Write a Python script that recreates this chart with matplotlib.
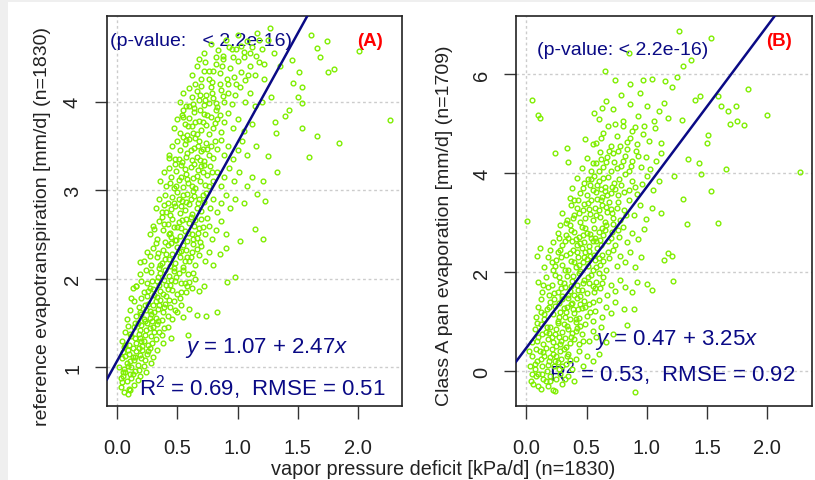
import numpy as np
import matplotlib
matplotlib.use("Agg")
import matplotlib.pyplot as plt
from matplotlib.patches import Rectangle

plt.rcParams['font.family'] = ['Liberation Sans', 'DejaVu Sans']
plt.rcParams['mathtext.fontset'] = 'custom'
plt.rcParams['mathtext.rm'] = 'Liberation Sans'
plt.rcParams['mathtext.it'] = 'Liberation Sans:italic'

# ---- panel A: vapor pressure deficit vs reference ET
pts_a = [
    # y 0.7 - 0.9
    (0.03, 0.78), (0.06, 0.72), (0.08, 0.85), (0.10, 0.76), (0.12, 0.88), (0.05, 0.90), (0.14, 0.80),
    (0.09, 0.70), (0.17, 0.86), (0.04, 0.83), (0.11, 0.74), (0.07, 0.95), (0.13, 0.93), (0.19, 0.90),
    # y 0.9 - 1.2
    (0.02, 1.00), (0.04, 1.10), (0.06, 0.98), (0.08, 1.05), (0.10, 1.15), (0.12, 1.00), (0.14, 1.08),
    (0.16, 1.18), (0.18, 0.97), (0.20, 1.10), (0.22, 1.02), (0.25, 1.15), (0.28, 1.05), (0.05, 1.17),
    (0.09, 1.20), (0.13, 1.12), (0.17, 1.03), (0.21, 1.19), (0.24, 0.95), (0.30, 1.12), (0.33, 1.20),
    (0.11, 0.93), (0.15, 0.96), (0.07, 1.13), (0.19, 1.14), (0.27, 1.22),
    # y 1.2 - 1.5
    (0.04, 1.30), (0.07, 1.40), (0.10, 1.25), (0.12, 1.35), (0.14, 1.45), (0.16, 1.28), (0.18, 1.38),
    (0.20, 1.48), (0.22, 1.30), (0.24, 1.42), (0.26, 1.25), (0.28, 1.35), (0.30, 1.46), (0.32, 1.32),
    (0.35, 1.40), (0.38, 1.28), (0.42, 1.45), (0.09, 1.47), (0.13, 1.22), (0.17, 1.50), (0.21, 1.24),
    (0.25, 1.50), (0.29, 1.27), (0.33, 1.49), (0.37, 1.36), (0.45, 1.33), (0.06, 1.23), (0.19, 1.33),
    (0.23, 1.37), (0.27, 1.44), (0.59, 1.36),
    # y 1.5 - 1.8
    (0.08, 1.55), (0.11, 1.65), (0.14, 1.75), (0.16, 1.58), (0.18, 1.68), (0.20, 1.78), (0.22, 1.55),
    (0.24, 1.65), (0.26, 1.72), (0.28, 1.60), (0.30, 1.70), (0.32, 1.56), (0.34, 1.66), (0.36, 1.76),
    (0.38, 1.62), (0.40, 1.72), (0.42, 1.58), (0.44, 1.68), (0.47, 1.75), (0.50, 1.62), (0.53, 1.70),
    (0.12, 1.78), (0.25, 1.80), (0.29, 1.52), (0.33, 1.79), (0.37, 1.53), (0.41, 1.80), (0.46, 1.55),
    (0.55, 1.57), (0.19, 1.62), (0.27, 1.64), (0.35, 1.70), (0.60, 1.66), (0.66, 1.59), (0.74, 1.58),
    (0.83, 1.63),
    # y 1.8 - 2.1
    (0.13, 1.90), (0.16, 1.92), (0.19, 2.05), (0.22, 1.85), (0.25, 1.95), (0.28, 2.08), (0.30, 1.88),
    (0.33, 1.98), (0.36, 2.06), (0.38, 1.83), (0.41, 1.93), (0.43, 2.03), (0.46, 1.87), (0.48, 1.97),
    (0.51, 2.07), (0.53, 1.85), (0.56, 1.95), (0.59, 2.05), (0.62, 1.90), (0.65, 2.00), (0.68, 1.86),
    (0.24, 2.10), (0.31, 1.82), (0.35, 1.93), (0.40, 2.10), (0.45, 1.99), (0.50, 1.83), (0.55, 2.10),
    (0.60, 1.96), (0.72, 1.92), (0.20, 1.97), (0.27, 1.90), (0.42, 1.88), (0.47, 2.09), (0.91, 1.96),
    (0.98, 2.02), (0.19, 2.19), (0.16, 1.92),
    # y 2.1 - 2.4
    (0.22, 2.20), (0.25, 2.30), (0.28, 2.15), (0.30, 2.35), (0.33, 2.25), (0.35, 2.12), (0.38, 2.32),
    (0.40, 2.22), (0.42, 2.38), (0.44, 2.14), (0.46, 2.28), (0.48, 2.18), (0.50, 2.36), (0.52, 2.24),
    (0.55, 2.13), (0.57, 2.33), (0.60, 2.20), (0.62, 2.30), (0.65, 2.16), (0.68, 2.27), (0.70, 2.37),
    (0.73, 2.20), (0.76, 2.30), (0.80, 2.15), (0.32, 2.40), (0.37, 2.18), (0.45, 2.40), (0.53, 2.31),
    (0.58, 2.25), (0.63, 2.39), (0.27, 2.26), (0.85, 2.28), (1.02, 2.43), (0.90, 2.35),
    # y 2.4 - 2.7
    (0.27, 2.50), (0.30, 2.60), (0.33, 2.45), (0.35, 2.65), (0.38, 2.55), (0.40, 2.42), (0.42, 2.62),
    (0.44, 2.52), (0.46, 2.68), (0.48, 2.44), (0.50, 2.58), (0.52, 2.48), (0.54, 2.66), (0.56, 2.54),
    (0.58, 2.43), (0.60, 2.63), (0.62, 2.50), (0.64, 2.60), (0.66, 2.46), (0.68, 2.57), (0.70, 2.67),
    (0.73, 2.50), (0.76, 2.60), (0.79, 2.45), (0.82, 2.55), (0.86, 2.65), (0.90, 2.50), (0.37, 2.70),
    (0.45, 2.47), (0.53, 2.57), (0.61, 2.70), (0.69, 2.42), (0.75, 2.69), (0.31, 2.56), (1.21, 2.45),
    (1.14, 2.56),
    # y 2.7 - 3.0
    (0.32, 2.80), (0.35, 2.90), (0.37, 2.75), (0.40, 2.95), (0.42, 2.85), (0.44, 2.72), (0.46, 2.92),
    (0.48, 2.82), (0.50, 2.98), (0.52, 2.74), (0.54, 2.88), (0.56, 2.78), (0.58, 2.96), (0.60, 2.84),
    (0.62, 2.73), (0.64, 2.93), (0.66, 2.80), (0.68, 2.90), (0.70, 2.76), (0.72, 2.87), (0.74, 2.97),
    (0.77, 2.80), (0.80, 2.90), (0.83, 2.75), (0.86, 2.85), (0.90, 2.95), (0.94, 2.80), (0.98, 2.90),
    (0.45, 2.79), (0.51, 2.90), (0.57, 2.87), (0.63, 2.99), (0.39, 2.83), (1.05, 2.85), (1.23, 2.88),
    (1.16, 2.96),
    # y 3.0 - 3.3
    (0.36, 3.10), (0.39, 3.20), (0.41, 3.05), (0.43, 3.25), (0.45, 3.15), (0.47, 3.02), (0.49, 3.22),
    (0.51, 3.12), (0.53, 3.28), (0.55, 3.04), (0.57, 3.18), (0.59, 3.08), (0.61, 3.26), (0.63, 3.14),
    (0.65, 3.03), (0.67, 3.23), (0.69, 3.10), (0.71, 3.20), (0.73, 3.06), (0.75, 3.17), (0.77, 3.27),
    (0.80, 3.10), (0.83, 3.20), (0.86, 3.05), (0.89, 3.15), (0.93, 3.25), (0.97, 3.10), (1.01, 3.20),
    (0.48, 3.30), (0.56, 3.24), (0.64, 3.30), (0.72, 3.28), (0.44, 3.08), (1.08, 3.05), (1.21, 3.10),
    (1.33, 3.21), (1.12, 3.15),
    # y 3.3 - 3.6
    (0.43, 3.40), (0.46, 3.50), (0.48, 3.35), (0.50, 3.55), (0.52, 3.45), (0.54, 3.32), (0.56, 3.52),
    (0.58, 3.42), (0.60, 3.58), (0.62, 3.34), (0.64, 3.48), (0.66, 3.38), (0.68, 3.56), (0.70, 3.44),
    (0.72, 3.33), (0.74, 3.53), (0.76, 3.40), (0.78, 3.50), (0.80, 3.36), (0.83, 3.47), (0.86, 3.57),
    (0.89, 3.40), (0.92, 3.50), (0.96, 3.35), (1.00, 3.45), (1.04, 3.55), (1.08, 3.40), (0.55, 3.60),
    (0.65, 3.59), (0.71, 3.47), (0.43, 3.36), (1.25, 3.39), (1.15, 3.50),
    # y 3.6 - 3.9
    (0.47, 3.70), (0.50, 3.80), (0.52, 3.65), (0.54, 3.85), (0.56, 3.75), (0.58, 3.62), (0.60, 3.82),
    (0.62, 3.72), (0.64, 3.88), (0.66, 3.64), (0.68, 3.78), (0.70, 3.68), (0.72, 3.86), (0.74, 3.74),
    (0.76, 3.63), (0.78, 3.83), (0.80, 3.70), (0.83, 3.80), (0.86, 3.66), (0.89, 3.77), (0.92, 3.87),
    (0.96, 3.70), (1.00, 3.80), (1.05, 3.67), (0.55, 3.90), (0.69, 3.90), (0.82, 3.90), (1.31, 3.77),
    (1.32, 3.65), (1.39, 3.84), (1.12, 3.75), (0.55, 3.83),
    # y 3.9 - 4.2
    (0.52, 4.00), (0.55, 4.10), (0.57, 3.95), (0.60, 4.15), (0.62, 4.05), (0.64, 3.93), (0.66, 4.12),
    (0.68, 4.02), (0.70, 4.18), (0.72, 3.96), (0.74, 4.08), (0.76, 3.98), (0.78, 4.16), (0.80, 4.04),
    (0.83, 3.94), (0.86, 4.13), (0.89, 4.00), (0.92, 4.10), (0.95, 3.97), (0.98, 4.07), (1.02, 4.17),
    (1.06, 4.00), (1.10, 4.10), (0.65, 4.20), (0.85, 4.20), (1.14, 3.95), (1.43, 3.90), (1.50, 4.05),
    (1.53, 3.99), (1.53, 4.16), (1.46, 4.21), (1.28, 4.05), (1.20, 4.00),
    # y 4.2 - 4.5
    (0.62, 4.30), (0.66, 4.40), (0.70, 4.25), (0.73, 4.45), (0.76, 4.35), (0.79, 4.22), (0.82, 4.42),
    (0.85, 4.32), (0.88, 4.48), (0.91, 4.26), (0.94, 4.38), (0.97, 4.28), (1.00, 4.46), (1.03, 4.34),
    (1.06, 4.24), (1.10, 4.40), (1.14, 4.30), (1.18, 4.45), (1.22, 4.25), (0.68, 4.48), (0.96, 4.50),
    (1.51, 4.33), (1.45, 4.47), (1.75, 4.33), (1.80, 4.37), (1.35, 4.40),
    # y 4.5 - 4.9 and scattered outliers
    (0.72, 4.55), (0.78, 4.65), (0.84, 4.58), (0.90, 4.70), (0.95, 4.60), (1.00, 4.75), (1.05, 4.56),
    (1.08, 4.68), (1.12, 4.62), (1.16, 4.78), (1.20, 4.60), (1.25, 4.70), (1.27, 4.83), (0.88, 4.52),
    (1.03, 4.63), (1.30, 4.55), (1.15, 4.52), (1.68, 4.50), (1.66, 4.61), (1.74, 4.69), (1.61, 4.75),
    (2.01, 4.57), (1.84, 3.53), (1.66, 3.61), (1.59, 3.38), (1.53, 3.70), (2.26, 3.79),
]

# extra points in the solid core of panel A
pts_a_core = [
    (0.05, 0.95), (0.09, 1.02), (0.15, 1.12), (0.18, 1.22), (0.23, 1.08), (0.03, 0.88), (0.11, 1.07),
    (0.07, 1.25), (0.20, 1.30), (0.26, 1.18), (0.11, 1.38), (0.15, 1.33), (0.19, 1.42), (0.23, 1.52),
    (0.27, 1.56), (0.31, 1.40), (0.34, 1.52), (0.39, 1.44), (0.15, 1.50), (0.20, 1.60), (0.23, 1.70),
    (0.31, 1.62), (0.39, 1.68), (0.43, 1.76), (0.48, 1.65), (0.36, 1.86), (0.32, 1.75), (0.52, 1.78),
    (0.57, 1.85), (0.26, 1.86), (0.29, 1.97), (0.34, 2.02), (0.39, 1.99), (0.44, 1.93), (0.49, 2.02),
    (0.53, 1.95), (0.58, 1.92), (0.63, 2.06), (0.36, 2.16), (0.43, 2.22), (0.47, 2.12), (0.51, 2.30),
    (0.56, 2.20), (0.61, 2.25), (0.66, 2.34), (0.41, 2.28), (0.34, 2.29), (0.49, 2.44), (0.55, 2.38),
    (0.59, 2.52), (0.63, 2.45), (0.67, 2.52), (0.43, 2.50), (0.39, 2.62), (0.47, 2.58), (0.51, 2.64),
    (0.57, 2.68), (0.65, 2.66), (0.71, 2.58), (0.41, 2.75), (0.47, 2.86), (0.53, 2.82), (0.55, 2.95),
    (0.61, 2.90), (0.67, 2.85), (0.71, 2.95), (0.49, 3.05), (0.53, 3.15), (0.58, 3.13), (0.62, 3.05),
    (0.66, 3.16), (0.70, 3.27), (0.76, 3.05), (0.79, 3.20), (0.51, 3.35), (0.57, 3.38), (0.61, 3.45),
    (0.67, 3.50), (0.69, 3.34), (0.75, 3.46), (0.81, 3.55), (0.57, 3.57), (0.63, 3.65), (0.65, 3.77),
    (0.71, 3.77), (0.75, 3.85), (0.81, 3.76), (0.85, 3.85), (0.59, 3.72), (0.63, 3.97), (0.69, 4.08),
    (0.73, 4.02), (0.79, 4.10), (0.82, 3.98), (0.88, 4.06), (0.76, 4.25), (0.80, 4.35), (0.87, 4.40),
    (0.92, 4.20), (0.72, 4.35), (0.99, 4.20), (1.05, 4.50), (0.93, 4.62), (0.82, 4.50), (1.18, 4.70),
    (1.10, 4.55), (1.22, 4.42), (1.09, 4.30), (0.99, 4.60), (0.60, 3.95),
]

# ---- panel B: vapor pressure deficit vs class A pan evaporation
pts_b = [
    # y -0.4 - 0
    (0.04, -0.20), (0.06, -0.25), (0.08, -0.10), (0.10, -0.30), (0.13, -0.05), (0.16, -0.20),
    (0.20, -0.10), (0.22, -0.38), (0.25, -0.15), (0.28, -0.05), (0.30, -0.25), (0.12, -0.35),
    (0.18, -0.30), (0.35, -0.10), (0.24, -0.40), (0.40, -0.20), (0.05, -0.05), (0.14, -0.15),
    (0.90, -0.41),
    # y 0 - 0.5
    (0.03, 0.10), (0.05, 0.30), (0.07, 0.05), (0.09, 0.20), (0.11, 0.40), (0.13, 0.10), (0.15, 0.30),
    (0.17, 0.00), (0.19, 0.20), (0.21, 0.45), (0.23, 0.10), (0.25, 0.30), (0.27, 0.05), (0.29, 0.25),
    (0.31, 0.45), (0.33, 0.15), (0.35, 0.35), (0.38, 0.05), (0.41, 0.25), (0.44, 0.40), (0.47, 0.10),
    (0.50, 0.30), (0.55, 0.20), (0.08, 0.45), (0.16, 0.48), (0.20, 0.28), (0.24, 0.20), (0.28, 0.40),
    (0.36, 0.22), (0.12, 0.25), (0.60, 0.35), (0.02, 0.40),
    # y 0.5 - 1.0
    (0.05, 0.60), (0.07, 0.85), (0.10, 0.70), (0.12, 0.95), (0.14, 0.55), (0.16, 0.80), (0.18, 0.65),
    (0.20, 0.90), (0.22, 0.60), (0.24, 0.75), (0.26, 0.98), (0.28, 0.55), (0.30, 0.80), (0.32, 0.68),
    (0.34, 0.92), (0.36, 0.58), (0.38, 0.78), (0.40, 0.65), (0.42, 0.88), (0.44, 0.55), (0.46, 0.75),
    (0.49, 0.95), (0.52, 0.62), (0.55, 0.82), (0.58, 0.70), (0.62, 0.90), (0.66, 0.60), (0.25, 0.52),
    (0.33, 0.50), (0.41, 0.99), (0.19, 0.78), (0.27, 0.70), (0.35, 0.85), (0.47, 0.62), (0.72, 0.75),
    (0.09, 0.97), (0.84, 0.94),
    # y 1.0 - 1.5
    (0.08, 1.10), (0.10, 1.30), (0.12, 1.45), (0.15, 1.05), (0.17, 1.25), (0.20, 1.40), (0.22, 1.15),
    (0.24, 1.32), (0.26, 1.02), (0.28, 1.20), (0.30, 1.45), (0.32, 1.10), (0.34, 1.30), (0.36, 1.05),
    (0.38, 1.38), (0.40, 1.18), (0.42, 1.48), (0.44, 1.08), (0.46, 1.28), (0.48, 1.42), (0.50, 1.12),
    (0.52, 1.35), (0.55, 1.02), (0.57, 1.22), (0.60, 1.44), (0.63, 1.10), (0.66, 1.30), (0.70, 1.18),
    (0.74, 1.40), (0.31, 1.28), (0.39, 1.25), (0.45, 1.35), (0.53, 1.20), (0.27, 1.37), (0.35, 1.48),
    (0.81, 1.25), (0.12, 1.20), (0.89, 1.26),
    # y 1.5 - 2.0
    (0.10, 1.80), (0.13, 1.60), (0.16, 1.90), (0.19, 1.55), (0.21, 1.75), (0.24, 1.95), (0.26, 1.60),
    (0.28, 1.80), (0.30, 1.52), (0.32, 1.70), (0.34, 1.92), (0.36, 1.62), (0.38, 1.82), (0.40, 1.55),
    (0.42, 1.75), (0.44, 1.98), (0.46, 1.65), (0.48, 1.85), (0.50, 1.58), (0.52, 1.78), (0.54, 1.95),
    (0.56, 1.60), (0.58, 1.80), (0.61, 1.68), (0.64, 1.90), (0.67, 1.55), (0.70, 1.75), (0.74, 1.62),
    (0.78, 1.85), (0.82, 1.70), (0.45, 1.52), (0.55, 1.72), (0.37, 1.72), (0.29, 1.68), (0.60, 1.98),
    (0.88, 1.60), (0.92, 1.80), (0.14, 1.75), (1.04, 1.64), (1.00, 1.76), (1.22, 1.82),
    # y 2.0 - 2.5
    (0.15, 2.10), (0.18, 2.30), (0.22, 2.05), (0.25, 2.25), (0.28, 2.45), (0.30, 2.15), (0.33, 2.35),
    (0.35, 2.05), (0.37, 2.22), (0.39, 2.45), (0.41, 2.10), (0.43, 2.30), (0.45, 2.02), (0.47, 2.20),
    (0.49, 2.40), (0.51, 2.12), (0.53, 2.32), (0.55, 2.05), (0.57, 2.25), (0.59, 2.48), (0.61, 2.15),
    (0.63, 2.35), (0.66, 2.05), (0.69, 2.28), (0.72, 2.45), (0.75, 2.12), (0.78, 2.32), (0.82, 2.20),
    (0.86, 2.40), (0.90, 2.10), (0.42, 2.40), (0.50, 2.26), (0.58, 2.10), (0.64, 2.22), (0.46, 2.48),
    (0.26, 2.40), (0.95, 2.30), (0.21, 2.20), (0.09, 2.33), (0.11, 2.49), (1.21, 2.33), (1.18, 2.38),
    (1.14, 2.25),
    # y 2.5 - 3.0
    (0.22, 2.60), (0.26, 2.80), (0.30, 2.55), (0.33, 2.75), (0.36, 2.95), (0.38, 2.62), (0.40, 2.82),
    (0.42, 2.55), (0.44, 2.72), (0.46, 2.92), (0.48, 2.60), (0.50, 2.80), (0.52, 2.52), (0.54, 2.70),
    (0.56, 2.90), (0.58, 2.62), (0.60, 2.82), (0.62, 2.55), (0.64, 2.75), (0.66, 2.95), (0.68, 2.62),
    (0.71, 2.82), (0.74, 2.55), (0.77, 2.72), (0.80, 2.92), (0.84, 2.60), (0.88, 2.80), (0.93, 2.68),
    (0.98, 2.88), (0.47, 2.76), (0.55, 2.62), (0.63, 2.90), (0.35, 2.70), (0.72, 2.98), (0.28, 2.95),
    (1.33, 2.97), (1.59, 3.00), (0.01, 3.04),
    # y 3.0 - 3.5
    (0.30, 3.20), (0.34, 3.05), (0.37, 3.35), (0.40, 3.15), (0.43, 3.45), (0.45, 3.02), (0.47, 3.25),
    (0.49, 3.10), (0.51, 3.40), (0.53, 3.18), (0.55, 3.05), (0.57, 3.30), (0.59, 3.48), (0.61, 3.12),
    (0.63, 3.35), (0.65, 3.02), (0.67, 3.22), (0.69, 3.42), (0.72, 3.10), (0.75, 3.30), (0.78, 3.05),
    (0.81, 3.25), (0.85, 3.45), (0.89, 3.15), (0.94, 3.35), (0.99, 3.08), (0.52, 3.28), (0.60, 3.25),
    (0.70, 3.28), (0.42, 3.30), (1.04, 3.30), (0.36, 3.50), (1.30, 3.47), (1.12, 3.20),
    # y 3.5 - 4.0
    (0.38, 3.70), (0.42, 3.90), (0.45, 3.60), (0.48, 3.80), (0.50, 3.55), (0.53, 3.75), (0.56, 3.95),
    (0.58, 3.62), (0.60, 3.85), (0.63, 3.52), (0.65, 3.72), (0.68, 3.92), (0.70, 3.60), (0.73, 3.80),
    (0.76, 3.55), (0.79, 3.75), (0.82, 3.98), (0.85, 3.65), (0.88, 3.85), (0.92, 3.58), (0.96, 3.78),
    (1.00, 3.95), (1.05, 3.65), (0.62, 3.68), (0.74, 3.68), (0.54, 3.88), (1.10, 3.85), (0.65, 3.64),
    (1.53, 3.63), (1.23, 3.94), (1.45, 3.99),
    # y 4.0 - 4.5
    (0.46, 4.10), (0.50, 4.30), (0.54, 4.05), (0.58, 4.20), (0.61, 4.42), (0.64, 4.12), (0.67, 4.32),
    (0.70, 4.05), (0.73, 4.22), (0.76, 4.45), (0.79, 4.15), (0.82, 4.35), (0.85, 4.05), (0.88, 4.25),
    (0.91, 4.45), (0.95, 4.12), (0.99, 4.32), (1.03, 4.08), (1.08, 4.25), (0.62, 4.28), (0.84, 4.48),
    (0.72, 4.40), (1.12, 4.40), (0.24, 4.41), (0.34, 4.51), (0.35, 4.23), (1.43, 4.21), (1.34, 4.28),
    (1.66, 4.09), (2.27, 4.02),
    # y 4.5 - 5.0
    (0.58, 4.60), (0.64, 4.80), (0.70, 4.55), (0.75, 4.75), (0.80, 4.95), (0.84, 4.62), (0.88, 4.85),
    (0.92, 4.58), (0.97, 4.78), (1.02, 4.65), (1.07, 4.90), (0.68, 4.95), (1.12, 4.60), (0.86, 4.70),
    (0.49, 4.68), (0.55, 4.58), (1.51, 4.76), (1.50, 4.61), (1.81, 4.97), (1.69, 5.00),
    # y above 5
    (0.60, 5.10), (0.72, 5.30), (0.80, 5.05), (0.86, 5.40), (0.93, 5.15), (1.00, 5.35), (1.06, 5.05),
    (1.10, 5.25), (1.14, 5.42), (1.18, 5.12), (0.66, 5.45), (0.05, 5.47), (0.10, 5.18), (0.11, 5.12),
    (0.56, 5.22), (0.63, 5.32), (1.29, 5.08), (1.75, 5.05), (1.67, 5.25), (1.74, 5.36), (1.62, 5.36),
    (1.59, 5.55), (1.44, 5.55), (1.40, 5.48), (2.00, 5.18), (1.84, 5.69), (0.74, 5.87), (0.79, 5.58),
    (0.86, 5.79), (0.94, 5.62), (0.97, 5.87), (1.04, 5.89), (1.15, 5.85), (1.21, 5.73), (1.25, 5.93),
    (0.65, 6.07), (1.30, 6.17), (1.37, 6.29), (0.85, 6.42), (1.53, 6.73), (1.27, 6.86),
]

# extra points in the dense core of panel B
pts_b_core = [
    (0.07, 0.15), (0.10, -0.05), (0.14, 0.38), (0.18, 0.12), (0.22, 0.35), (0.26, 0.18), (0.30, 0.10),
    (0.34, 0.30), (0.20, -0.20), (0.32, -0.15), (0.09, 0.62), (0.13, 0.75), (0.17, 0.90), (0.21, 0.70),
    (0.25, 0.85), (0.29, 0.62), (0.31, 0.95), (0.37, 0.70), (0.41, 0.82), (0.45, 0.92), (0.15, 1.15),
    (0.19, 1.30), (0.23, 1.45), (0.27, 1.10), (0.33, 1.20), (0.37, 1.35), (0.41, 1.05), (0.43, 1.25),
    (0.49, 1.30), (0.55, 1.40), (0.18, 1.70), (0.23, 1.58), (0.27, 1.90), (0.31, 1.78), (0.35, 1.55),
    (0.39, 1.92), (0.43, 1.65), (0.47, 1.78), (0.51, 1.90), (0.57, 1.68), (0.63, 1.78), (0.24, 2.12),
    (0.29, 2.30), (0.32, 2.05), (0.36, 2.38), (0.40, 2.20), (0.44, 2.15), (0.48, 2.30), (0.52, 2.42),
    (0.56, 2.35), (0.60, 2.28), (0.68, 2.40), (0.32, 2.62), (0.37, 2.85), (0.41, 2.68), (0.45, 2.58),
    (0.49, 2.90), (0.53, 2.78), (0.57, 2.70), (0.61, 2.65), (0.65, 2.85), (0.70, 2.70), (0.76, 2.85),
    (0.39, 3.10), (0.44, 3.20), (0.48, 3.38), (0.54, 3.45), (0.58, 3.15), (0.62, 3.45), (0.66, 3.32),
    (0.71, 3.20), (0.76, 3.42), (0.83, 3.15), (0.47, 3.70), (0.51, 3.88), (0.55, 3.65), (0.59, 3.75),
    (0.64, 3.90), (0.67, 3.55), (0.71, 3.72), (0.77, 3.88), (0.81, 3.62), (0.90, 3.72), (0.55, 4.20),
    (0.60, 4.05), (0.66, 4.22), (0.69, 4.45), (0.75, 4.10), (0.80, 4.25), (0.87, 4.15), (0.93, 4.35),
    (0.78, 4.55), (0.62, 4.70), (0.90, 4.92), (0.74, 5.00), (0.98, 4.95), (0.40, 3.45), (0.33, 3.00),
    (0.27, 2.70), (0.20, 2.45),
]

fit_a = (1.07, 2.47)
fit_b = (0.47, 3.25)
yticks_a = [1, 2, 3, 4]
yticks_b = [0, 2, 4, 6]
xticks = [0.0, 0.5, 1.0, 1.5, 2.0]
ylabel_a = "reference evapotranspiration [mm/d] (n=1830)"
ylabel_b = "Class A pan evaporation [mm/d] (n=1709)"
xlabel = "vapor pressure deficit [kPa/d] (n=1830)"

all_a = pts_a + pts_a_core
all_b = pts_b + pts_b_core
xa = np.array([p[0] for p in all_a])
ya = np.array([p[1] for p in all_a])
xb = np.array([p[0] for p in all_b])
yb = np.array([p[1] for p in all_b])

navy = "#0a0a85"
green = "#7fee00"
ink = "#222222"

fig = plt.figure(figsize=(8.15, 4.81), dpi=100, facecolor="#efefef")
fig.patches.append(Rectangle((8 / 815, 0), 1, 478 / 481, transform=fig.transFigure,
                             facecolor="white", edgecolor="none", zorder=-5))


def panel(rect, x, y, fit, yticks, xlim, ylim, ylabel, ylab_x, pval, pval_xy, pval_ha,
          tag, tag_xy, eq, eq_xy, stat, stat_xy):
    ax = fig.add_axes(rect)
    ax.set_xlim(*xlim)
    ax.set_ylim(*ylim)
    for t in yticks:
        ax.axhline(t, color="#cccccc", lw=1, ls=(0, (2, 2)), zorder=0)
    ax.axvline(0, color="#cccccc", lw=1, ls=(0, (2, 2)), zorder=0)

    ax.text(*pval_xy, pval, transform=ax.transAxes, ha=pval_ha, va="center",
            color=navy, fontsize=14, zorder=1)
    ax.text(*tag_xy, tag, transform=ax.transAxes, ha="center", va="center",
            color="red", fontsize=13.5, fontweight="bold", zorder=1)
    ax.text(*eq_xy, eq, transform=ax.transAxes, ha="center", va="center",
            color=navy, fontsize=16, zorder=1)
    ax.text(*stat_xy, stat, transform=ax.transAxes, ha="center", va="center",
            color=navy, fontsize=16, zorder=1)

    ax.plot(x, y, ls="none", marker="o", ms=3.4, mfc="none", mec=green, mew=1.0, zorder=2)
    xs = np.array(xlim)
    ax.plot(xs, fit[0] + fit[1] * xs, color=navy, lw=1.8, zorder=3)

    ax.set_xticks(xticks)
    ax.set_xticklabels([f"{v:.1f}" for v in xticks])
    ax.set_yticks(yticks)
    ax.set_yticklabels([str(v) for v in yticks], rotation=90, va="center")
    ax.tick_params(axis="both", length=9, width=1, labelsize=14.5, color="#333333",
                   labelcolor=ink)
    ax.tick_params(axis="x", pad=14)
    ax.tick_params(axis="y", pad=9)
    for s in ax.spines.values():
        s.set_linewidth(1.2)
        s.set_color(ink)
    fig.text(ylab_x, (481 - 226) / 481, ylabel, rotation=90, ha="center", va="center",
             fontsize=14, color=ink)
    return ax


panel([107 / 815, 74 / 481, 295 / 815, 390 / 481], xa, ya, fit_a, yticks_a,
      (-0.083, 2.363), (0.563, 4.967), ylabel_a, 43 / 815,
      "(p-value:   < 2.2e-16)", (0.01, 0.936), "left",
      "(A)", (0.89, 0.936),
      r"$y$ = 1.07 + 2.47$x$", (0.542, 0.151),
      r"R$^2$ = 0.69,  RMSE = 0.51", (0.527, 0.049))

panel([516 / 815, 74 / 481, 296 / 815, 390 / 481], xb, yb, fit_b, yticks_b,
      (-0.085, 2.371), (-0.70, 7.17), ylabel_b, 445 / 815,
      "(p-value: < 2.2e-16)", (0.36, 0.915), "center",
      "(B)", (0.889, 0.936),
      r"$y$ = 0.47 + 3.25$x$", (0.542, 0.172),
      r"R$^2$ = 0.53,  RMSE = 0.92", (0.527, 0.087))

fig.text(443 / 815, (481 - 470) / 481, xlabel, ha="center", va="center",
         fontsize=14.3, color=ink)

fig.savefig("out.png", dpi=100, facecolor=fig.get_facecolor())
